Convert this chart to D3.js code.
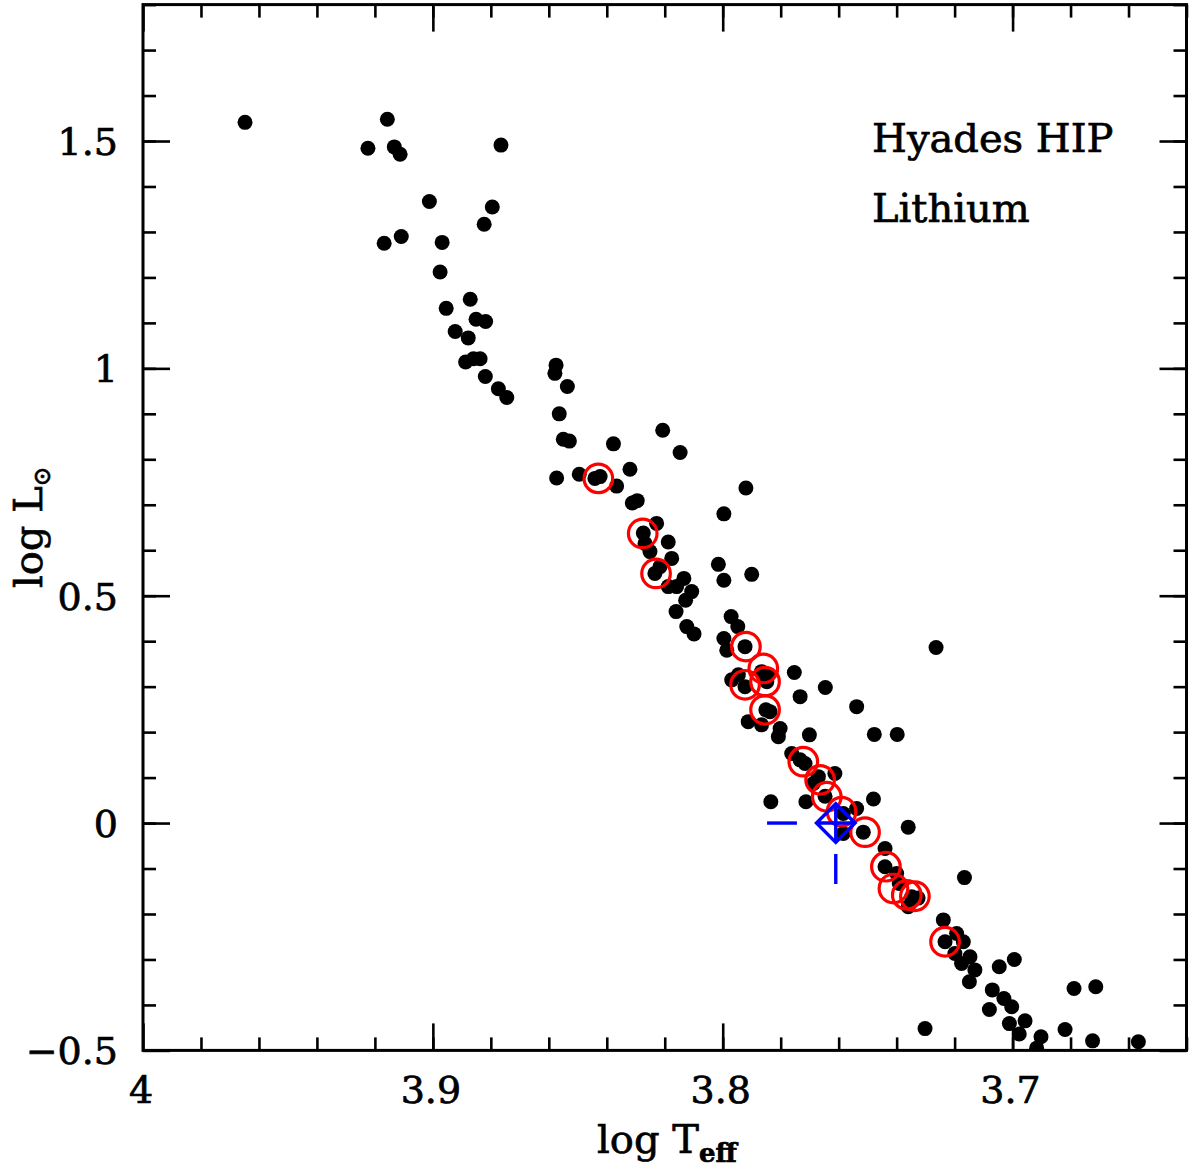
<!DOCTYPE html>
<html>
<head>
<meta charset="utf-8">
<script src="https://cdn.jsdelivr.net/npm/d3@7"></script>
<style>
  html, body { margin: 0; padding: 0; background: #fff; }
  svg { display: block; }
  text { font-family: "DejaVu Serif", "Liberation Serif", serif; fill: #000; stroke: #000; stroke-width: 0.7px; }
</style>
</head>
<body>
<div id="chart"></div>
<script>
// Hyades HIP stars: [log Teff, log L]
const hipStars = [
  [3.9648, 1.541], [3.9157, 1.548], [3.9224, 1.484], [3.9133, 1.487], [3.9113, 1.471],
  [3.8765, 1.491], [3.9012, 1.367], [3.8795, 1.355], [3.8823, 1.317], [3.9109, 1.290],
  [3.9168, 1.275], [3.8968, 1.277], [3.8975, 1.212], [3.8871, 1.152], [3.8954, 1.132],
  [3.8851, 1.108], [3.8818, 1.103], [3.8923, 1.081], [3.8878, 1.067], [3.8887, 1.014],
  [3.8860, 1.021], [3.8837, 1.021], [3.8819, 0.982], [3.8774, 0.955], [3.8745, 0.936],
  [3.8575, 1.007], [3.8579, 0.989], [3.8536, 0.960], [3.8564, 0.900], [3.8550, 0.844],
  [3.8529, 0.840], [3.8377, 0.834], [3.8207, 0.864], [3.8147, 0.815], [3.8573, 0.759],
  [3.8495, 0.767], [3.8441, 0.758], [3.8423, 0.762], [3.8366, 0.741], [3.8320, 0.778],
  [3.8312, 0.704], [3.8295, 0.709], [3.7920, 0.737], [3.7996, 0.680], [3.8228, 0.659],
  [3.8274, 0.638], [3.8268, 0.615], [3.8188, 0.618], [3.8251, 0.597], [3.8176, 0.582],
  [3.8234, 0.549], [3.8216, 0.564], [3.8134, 0.538], [3.8188, 0.520], [3.8159, 0.520],
  [3.8107, 0.509], [3.8128, 0.490], [3.8161, 0.465], [3.8015, 0.569], [3.7996, 0.534],
  [3.7900, 0.547], [3.8124, 0.432], [3.8099, 0.416], [3.7971, 0.454], [3.7948, 0.432],
  [3.7996, 0.406], [3.7923, 0.388], [3.7264, 0.386], [3.7986, 0.380], [3.7866, 0.333],
  [3.7843, 0.326], [3.7969, 0.315], [3.7946, 0.326], [3.7923, 0.300], [3.7848, 0.311],
  [3.7753, 0.331], [3.7646, 0.298], [3.7733, 0.278], [3.7851, 0.249], [3.7837, 0.245],
  [3.7912, 0.223], [3.7866, 0.216], [3.7802, 0.208], [3.7808, 0.190], [3.7701, 0.194],
  [3.7538, 0.256], [3.7477, 0.195], [3.7398, 0.195], [3.7762, 0.153], [3.7733, 0.139],
  [3.7716, 0.131], [3.7670, 0.102], [3.7613, 0.109], [3.7687, 0.087], [3.7647, 0.059],
  [3.7834, 0.047], [3.7713, 0.047], [3.7480, 0.053], [3.7584, 0.021], [3.7538, 0.032],
  [3.7515, -0.020], [3.7360, -0.009], [3.7584, -0.023], [3.7440, -0.056], [3.7440, -0.096],
  [3.7400, -0.111], [3.7166, -0.120], [3.7391, -0.133], [3.7360, -0.184], [3.7348, -0.162],
  [3.7326, -0.165], [3.7239, -0.213], [3.7233, -0.261], [3.7193, -0.243], [3.7170, -0.261],
  [3.7199, -0.287], [3.7147, -0.294], [3.7176, -0.309], [3.7130, -0.323], [3.7149, -0.349],
  [3.7046, -0.316], [3.6994, -0.300], [3.7070, -0.367], [3.7030, -0.386], [3.7003, -0.404],
  [3.7080, -0.410], [3.7011, -0.441], [3.6957, -0.435], [3.6977, -0.464], [3.6902, -0.470],
  [3.6917, -0.495], [3.6819, -0.454], [3.6788, -0.364], [3.6713, -0.360], [3.6724, -0.479],
  [3.6566, -0.481], [3.7302, -0.452]
];

// stars with lithium measurements (red circles)
const lithiumStars = [
  [3.8429, 0.758], [3.8276, 0.637], [3.8230, 0.549], [3.7920, 0.388], [3.7860, 0.340],
  [3.7854, 0.311], [3.7923, 0.304], [3.7854, 0.249], [3.7722, 0.135], [3.7664, 0.095],
  [3.7641, 0.058], [3.7590, 0.025], [3.7509, -0.020], [3.7437, -0.096], [3.7411, -0.144],
  [3.7365, -0.158], [3.7337, -0.161], [3.7233, -0.261]
];

// the Sun and the visible pieces of its dashed error bars
const sun = [3.7610, 0];
const sunErrSegments = [
  [[3.7847, 0], [3.7744, 0]],
  [[3.7610, -0.068], [3.7610, -0.134]]
];

const xDomain = [4, 3.64];
const yDomain = [-0.5, 1.8];
const xMajor = [4, 3.9, 3.8, 3.7];
const xLabels = ["4", "3.9", "3.8", "3.7"];
const xMinor = d3.range(3.98, 3.639, -0.02);
const yMajor = [-0.5, 0, 0.5, 1, 1.5];
const yLabels = ["\u22120.5", "0", "0.5", "1", "1.5"];
const yMinor = d3.range(-0.4, 1.81, 0.1);

const W = 1189, H = 1171;
const plot = { left: 143, right: 1186.5, top: 4.6, bottom: 1050.4 };

const x = d3.scaleLinear().domain(xDomain).range([plot.left, plot.right]);
const y = d3.scaleLinear().domain(yDomain).range([plot.bottom, plot.top]);

const svg = d3.select("#chart").append("svg")
  .attr("width", W).attr("height", H);

svg.append("rect").attr("width", W).attr("height", H).attr("fill", "#fff");

svg.append("clipPath").attr("id", "clip")
  .append("rect")
  .attr("x", plot.left).attr("y", plot.top)
  .attr("width", plot.right - plot.left).attr("height", plot.bottom - plot.top);

const MAJ = 27, MIN = 13;

function ticks(axisFn, scale, values, len, transform) {
  const g = svg.append("g")
    .attr("transform", transform)
    .call(axisFn(scale).tickValues(values).tickSizeInner(-len).tickSizeOuter(0).tickFormat(""));
  g.select(".domain").remove();
  g.selectAll("line").attr("stroke", "#000").attr("stroke-width", 2.6);
  g.selectAll("text").remove();
  return g;
}

// ticks on all four sides, pointing inwards
ticks(d3.axisBottom, x, xMajor, MAJ, `translate(0,${plot.bottom})`);
ticks(d3.axisBottom, x, xMinor, MIN, `translate(0,${plot.bottom})`);
ticks(d3.axisTop, x, xMajor, MAJ, `translate(0,${plot.top})`);
ticks(d3.axisTop, x, xMinor, MIN, `translate(0,${plot.top})`);
ticks(d3.axisLeft, y, yMajor, MAJ, `translate(${plot.left},0)`);
ticks(d3.axisLeft, y, yMinor, MIN, `translate(${plot.left},0)`);
ticks(d3.axisRight, y, yMajor, MAJ, `translate(${plot.right},0)`);
ticks(d3.axisRight, y, yMinor, MIN, `translate(${plot.right},0)`);

// frame
svg.append("rect")
  .attr("x", plot.left).attr("y", plot.top)
  .attr("width", plot.right - plot.left).attr("height", plot.bottom - plot.top)
  .attr("fill", "none").attr("stroke", "#000").attr("stroke-width", 3);

// tick labels
svg.append("g").selectAll("text")
  .data(xMajor)
  .join("text")
  .attr("x", d => x(d) - 2)
  .attr("y", 1103)
  .attr("text-anchor", "middle")
  .attr("font-size", 38)
  .text((d, i) => xLabels[i]);

svg.append("g").selectAll("text")
  .data(yMajor)
  .join("text")
  .attr("x", 118)
  .attr("y", d => y(d) + 14)
  .attr("text-anchor", "end")
  .attr("font-size", 38)
  .text((d, i) => yLabels[i]);

// axis titles
const xt = svg.append("text")
  .attr("x", 597).attr("y", 1153)
  .attr("font-size", 40);
xt.append("tspan").text("log T");
xt.append("tspan").attr("dy", 9).attr("font-size", 26).attr("font-weight", "bold").text("eff");

const yt = svg.append("text")
  .attr("transform", "translate(42,588) rotate(-90)")
  .attr("font-size", 40);
yt.append("tspan").text("log L");
yt.append("tspan").attr("dy", 8).attr("font-size", 24).text("\u2299");

// annotation
svg.append("text").attr("x", 872).attr("y", 152).attr("font-size", 40).text("Hyades HIP");
svg.append("text").attr("x", 872).attr("y", 222).attr("font-size", 40).text("Lithium");

const marks = svg.append("g").attr("clip-path", "url(#clip)");

marks.append("g").selectAll("circle")
  .data(hipStars)
  .join("circle")
  .attr("cx", d => x(d[0]))
  .attr("cy", d => y(d[1]))
  .attr("r", 7.5)
  .attr("fill", "#000");

marks.append("g").selectAll("circle")
  .data(lithiumStars)
  .join("circle")
  .attr("cx", d => x(d[0]))
  .attr("cy", d => y(d[1]))
  .attr("r", 14.3)
  .attr("fill", "none")
  .attr("stroke", "#ff0000")
  .attr("stroke-width", 3.2);

// Sun: diamond with cross, plus error-bar dashes
const sg = marks.append("g").attr("stroke", "#0000ff").attr("stroke-width", 3.4).attr("fill", "none");
sg.selectAll("line.err")
  .data(sunErrSegments)
  .join("line")
  .attr("class", "err")
  .attr("x1", d => x(d[0][0])).attr("y1", d => y(d[0][1]))
  .attr("x2", d => x(d[1][0])).attr("y2", d => y(d[1][1]));

const sx = x(sun[0]), sy = y(sun[1]), s = 19.3;
sg.append("path")
  .attr("stroke-linejoin", "miter")
  .attr("d", `M${sx},${sy - s}L${sx + s},${sy}L${sx},${sy + s}L${sx - s},${sy}Z` +
             `M${sx},${sy - s}L${sx},${sy + s}M${sx - s},${sy}L${sx + s},${sy}`);
</script>
</body>
</html>
